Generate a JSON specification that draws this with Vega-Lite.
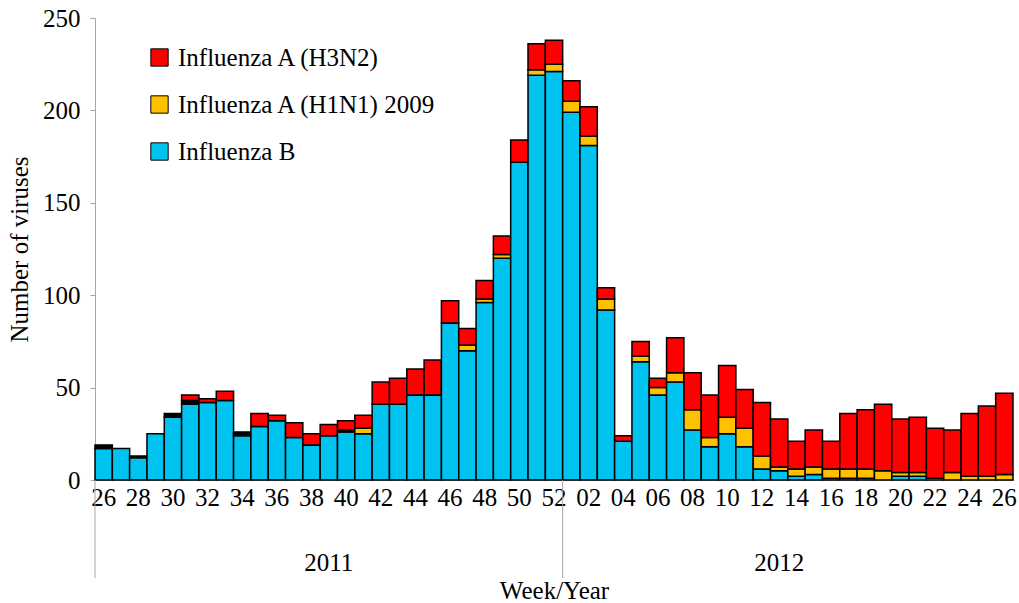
{
"$schema": "https://vega.github.io/schema/vega-lite/v6.json",
"width": 918, "height": 462,
"autosize": {"type": "none"},
"padding": {"left": 95, "top": 18, "right": 6, "bottom": 123},
"background": "white",
"config": {"view": {"stroke": null}, "font": "Liberation Serif",
  "axis": {"labelFont": "Liberation Serif", "titleFont": "Liberation Serif", "labelFontSize": 25, "titleFontSize": 25, "titleFontWeight": "normal", "labelColor": "#000", "titleColor": "#000", "domainColor": "#A6A6A6", "tickColor": "#A6A6A6", "grid": false}},
"datasets": {
  "flu": [
{"k":"2011-26","t":"Influenza B","o":1,"n":17},{"k":"2011-26","t":"Other","o":3,"n":2},
{"k":"2011-27","t":"Influenza B","o":1,"n":17},
{"k":"2011-28","t":"Influenza B","o":1,"n":12},{"k":"2011-28","t":"Other","o":3,"n":1},
{"k":"2011-29","t":"Influenza B","o":1,"n":25},
{"k":"2011-30","t":"Influenza B","o":1,"n":34},{"k":"2011-30","t":"Other","o":3,"n":2},
{"k":"2011-31","t":"Influenza B","o":1,"n":41},{"k":"2011-31","t":"Other","o":3,"n":2},{"k":"2011-31","t":"Influenza A (H3N2)","o":4,"n":3},
{"k":"2011-32","t":"Influenza B","o":1,"n":42},{"k":"2011-32","t":"Influenza A (H3N2)","o":4,"n":2},
{"k":"2011-33","t":"Influenza B","o":1,"n":43},{"k":"2011-33","t":"Influenza A (H3N2)","o":4,"n":5},
{"k":"2011-34","t":"Influenza B","o":1,"n":24},{"k":"2011-34","t":"Other","o":3,"n":2},
{"k":"2011-35","t":"Influenza B","o":1,"n":29},{"k":"2011-35","t":"Influenza A (H3N2)","o":4,"n":7},
{"k":"2011-36","t":"Influenza B","o":1,"n":32},{"k":"2011-36","t":"Influenza A (H3N2)","o":4,"n":3},
{"k":"2011-37","t":"Influenza B","o":1,"n":23},{"k":"2011-37","t":"Influenza A (H3N2)","o":4,"n":8},
{"k":"2011-38","t":"Influenza B","o":1,"n":19},{"k":"2011-38","t":"Influenza A (H3N2)","o":4,"n":6},
{"k":"2011-39","t":"Influenza B","o":1,"n":24},{"k":"2011-39","t":"Influenza A (H3N2)","o":4,"n":6},
{"k":"2011-40","t":"Influenza B","o":1,"n":26},{"k":"2011-40","t":"Other","o":3,"n":1},{"k":"2011-40","t":"Influenza A (H3N2)","o":4,"n":5},
{"k":"2011-41","t":"Influenza B","o":1,"n":25},{"k":"2011-41","t":"Influenza A (H1N1) 2009","o":2,"n":3},{"k":"2011-41","t":"Influenza A (H3N2)","o":4,"n":7},
{"k":"2011-42","t":"Influenza B","o":1,"n":41},{"k":"2011-42","t":"Influenza A (H3N2)","o":4,"n":12},
{"k":"2011-43","t":"Influenza B","o":1,"n":41},{"k":"2011-43","t":"Influenza A (H3N2)","o":4,"n":14},
{"k":"2011-44","t":"Influenza B","o":1,"n":46},{"k":"2011-44","t":"Influenza A (H3N2)","o":4,"n":14},
{"k":"2011-45","t":"Influenza B","o":1,"n":46},{"k":"2011-45","t":"Influenza A (H3N2)","o":4,"n":19},
{"k":"2011-46","t":"Influenza B","o":1,"n":85},{"k":"2011-46","t":"Influenza A (H3N2)","o":4,"n":12},
{"k":"2011-47","t":"Influenza B","o":1,"n":70},{"k":"2011-47","t":"Influenza A (H1N1) 2009","o":2,"n":3},{"k":"2011-47","t":"Influenza A (H3N2)","o":4,"n":9},
{"k":"2011-48","t":"Influenza B","o":1,"n":96},{"k":"2011-48","t":"Influenza A (H1N1) 2009","o":2,"n":2},{"k":"2011-48","t":"Influenza A (H3N2)","o":4,"n":10},
{"k":"2011-49","t":"Influenza B","o":1,"n":120},{"k":"2011-49","t":"Influenza A (H1N1) 2009","o":2,"n":2},{"k":"2011-49","t":"Influenza A (H3N2)","o":4,"n":10},
{"k":"2011-50","t":"Influenza B","o":1,"n":172},{"k":"2011-50","t":"Influenza A (H3N2)","o":4,"n":12},
{"k":"2011-51","t":"Influenza B","o":1,"n":219},{"k":"2011-51","t":"Influenza A (H1N1) 2009","o":2,"n":3},{"k":"2011-51","t":"Influenza A (H3N2)","o":4,"n":14},
{"k":"2011-52","t":"Influenza B","o":1,"n":221},{"k":"2011-52","t":"Influenza A (H1N1) 2009","o":2,"n":4},{"k":"2011-52","t":"Influenza A (H3N2)","o":4,"n":13},
{"k":"2012-01","t":"Influenza B","o":1,"n":199},{"k":"2012-01","t":"Influenza A (H1N1) 2009","o":2,"n":6},{"k":"2012-01","t":"Influenza A (H3N2)","o":4,"n":11},
{"k":"2012-02","t":"Influenza B","o":1,"n":181},{"k":"2012-02","t":"Influenza A (H1N1) 2009","o":2,"n":5},{"k":"2012-02","t":"Influenza A (H3N2)","o":4,"n":16},
{"k":"2012-03","t":"Influenza B","o":1,"n":92},{"k":"2012-03","t":"Influenza A (H1N1) 2009","o":2,"n":6},{"k":"2012-03","t":"Influenza A (H3N2)","o":4,"n":6},
{"k":"2012-04","t":"Influenza B","o":1,"n":21},{"k":"2012-04","t":"Influenza A (H3N2)","o":4,"n":3},
{"k":"2012-05","t":"Influenza B","o":1,"n":64},{"k":"2012-05","t":"Influenza A (H1N1) 2009","o":2,"n":3},{"k":"2012-05","t":"Influenza A (H3N2)","o":4,"n":8},
{"k":"2012-06","t":"Influenza B","o":1,"n":46},{"k":"2012-06","t":"Influenza A (H1N1) 2009","o":2,"n":4},{"k":"2012-06","t":"Influenza A (H3N2)","o":4,"n":5},
{"k":"2012-07","t":"Influenza B","o":1,"n":53},{"k":"2012-07","t":"Influenza A (H1N1) 2009","o":2,"n":5},{"k":"2012-07","t":"Influenza A (H3N2)","o":4,"n":19},
{"k":"2012-08","t":"Influenza B","o":1,"n":27},{"k":"2012-08","t":"Influenza A (H1N1) 2009","o":2,"n":11},{"k":"2012-08","t":"Influenza A (H3N2)","o":4,"n":20},
{"k":"2012-09","t":"Influenza B","o":1,"n":18},{"k":"2012-09","t":"Influenza A (H1N1) 2009","o":2,"n":5},{"k":"2012-09","t":"Influenza A (H3N2)","o":4,"n":23},
{"k":"2012-10","t":"Influenza B","o":1,"n":25},{"k":"2012-10","t":"Influenza A (H1N1) 2009","o":2,"n":9},{"k":"2012-10","t":"Influenza A (H3N2)","o":4,"n":28},
{"k":"2012-11","t":"Influenza B","o":1,"n":18},{"k":"2012-11","t":"Influenza A (H1N1) 2009","o":2,"n":10},{"k":"2012-11","t":"Influenza A (H3N2)","o":4,"n":21},
{"k":"2012-12","t":"Influenza B","o":1,"n":6},{"k":"2012-12","t":"Influenza A (H1N1) 2009","o":2,"n":7},{"k":"2012-12","t":"Influenza A (H3N2)","o":4,"n":29},
{"k":"2012-13","t":"Influenza B","o":1,"n":5},{"k":"2012-13","t":"Influenza A (H1N1) 2009","o":2,"n":2},{"k":"2012-13","t":"Influenza A (H3N2)","o":4,"n":26},
{"k":"2012-14","t":"Influenza B","o":1,"n":2},{"k":"2012-14","t":"Influenza A (H1N1) 2009","o":2,"n":4},{"k":"2012-14","t":"Influenza A (H3N2)","o":4,"n":15},
{"k":"2012-15","t":"Influenza B","o":1,"n":3},{"k":"2012-15","t":"Influenza A (H1N1) 2009","o":2,"n":4},{"k":"2012-15","t":"Influenza A (H3N2)","o":4,"n":20},
{"k":"2012-16","t":"Influenza B","o":1,"n":1},{"k":"2012-16","t":"Influenza A (H1N1) 2009","o":2,"n":5},{"k":"2012-16","t":"Influenza A (H3N2)","o":4,"n":15},
{"k":"2012-17","t":"Influenza B","o":1,"n":1},{"k":"2012-17","t":"Influenza A (H1N1) 2009","o":2,"n":5},{"k":"2012-17","t":"Influenza A (H3N2)","o":4,"n":30},
{"k":"2012-18","t":"Influenza B","o":1,"n":1},{"k":"2012-18","t":"Influenza A (H1N1) 2009","o":2,"n":5},{"k":"2012-18","t":"Influenza A (H3N2)","o":4,"n":32},
{"k":"2012-19","t":"Influenza A (H1N1) 2009","o":2,"n":5},{"k":"2012-19","t":"Influenza A (H3N2)","o":4,"n":36},
{"k":"2012-20","t":"Influenza B","o":1,"n":2},{"k":"2012-20","t":"Influenza A (H1N1) 2009","o":2,"n":2},{"k":"2012-20","t":"Influenza A (H3N2)","o":4,"n":29},
{"k":"2012-21","t":"Influenza B","o":1,"n":2},{"k":"2012-21","t":"Influenza A (H1N1) 2009","o":2,"n":2},{"k":"2012-21","t":"Influenza A (H3N2)","o":4,"n":30},
{"k":"2012-22","t":"Influenza A (H1N1) 2009","o":2,"n":1},{"k":"2012-22","t":"Influenza A (H3N2)","o":4,"n":27},
{"k":"2012-23","t":"Influenza A (H1N1) 2009","o":2,"n":4},{"k":"2012-23","t":"Influenza A (H3N2)","o":4,"n":23},
{"k":"2012-24","t":"Influenza A (H1N1) 2009","o":2,"n":2},{"k":"2012-24","t":"Influenza A (H3N2)","o":4,"n":34},
{"k":"2012-25","t":"Influenza A (H1N1) 2009","o":2,"n":2},{"k":"2012-25","t":"Influenza A (H3N2)","o":4,"n":38},
{"k":"2012-26","t":"Influenza A (H1N1) 2009","o":2,"n":3},{"k":"2012-26","t":"Influenza A (H3N2)","o":4,"n":44}
  ],
  "years": [{"k":"2011-39","yr":"2011"},{"k":"2012-13","yr":"2012"}],
  "seps": [{"k":"2011-26"},{"k":"2012-01"}]
},
"layer": [
  {
    "data": {"name": "flu"},
    "mark": {"type": "bar", "stroke": "#000", "strokeWidth": 1.5},
    "encoding": {
      "x": {"field": "k", "type": "ordinal", "title": "Week/Year",
        "scale": {"paddingInner": 0, "paddingOuter": 0},
        "axis": {"labelAngle": 0, "ticks": false, "labelOverlap": false, "labelPadding": 5, "titlePadding": 68,
          "labelExpr": "(+slice(datum.value,5)) % 2 == 0 ? slice(datum.value,5) : ''"}},
      "y": {"field": "n", "type": "quantitative", "title": "Number of viruses",
        "scale": {"domain": [0, 250], "nice": false},
        "axis": {"values": [0, 50, 100, 150, 200, 250], "tickSize": 5, "labelPadding": 10, "titlePadding": 10}},
      "color": {"field": "t", "type": "nominal",
        "scale": {"domain": ["Influenza A (H3N2)", "Influenza A (H1N1) 2009", "Influenza B", "Other"], "range": ["#FF0000", "#FFC000", "#00C3F0", "#000000"]},
        "legend": {"values": ["Influenza A (H3N2)", "Influenza A (H1N1) 2009", "Influenza B"], "title": null,
          "orient": "none", "legendX": 52, "legendY": 27, "symbolType": "square", "symbolSize": 300,
          "symbolStrokeColor": "#000", "symbolStrokeWidth": 1, "labelFont": "Liberation Serif", "labelFontSize": 25,
          "labelColor": "#000", "rowPadding": 21, "labelOffset": 6, "labelLimit": 0}},
      "order": {"field": "o", "type": "quantitative"}
    }
  },
  {
    "data": {"name": "years"},
    "mark": {"type": "text", "fontSize": 25, "font": "Liberation Serif", "dy": 83, "color": "#000"},
    "encoding": {
      "x": {"field": "k", "type": "ordinal"},
      "y": {"datum": 0},
      "text": {"field": "yr"}
    }
  },
  {
    "data": {"name": "seps"},
    "mark": {"type": "rule", "color": "#A6A6A6", "strokeWidth": 1},
    "encoding": {
      "x": {"field": "k", "type": "ordinal", "bandPosition": 0},
      "y": {"datum": 0},
      "y2": {"datum": -53}
    }
  }
]
}
